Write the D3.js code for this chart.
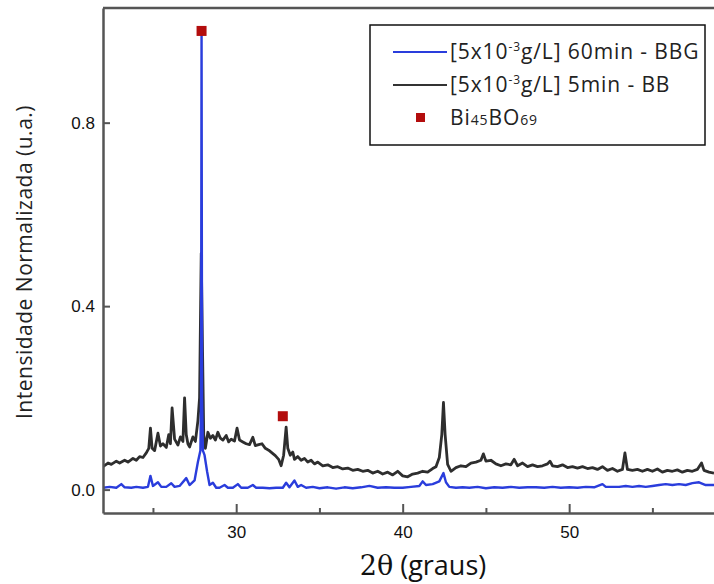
<!DOCTYPE html>
<html>
<head>
<meta charset="utf-8">
<script src="https://cdn.jsdelivr.net/npm/d3@7"></script>
<style>
body { margin: 0; background: #fff; }
svg { display: block; font-family: "Open Sans", "DejaVu Sans", sans-serif; }
.axis path, .axis line { stroke: #555; }
.axis text { font-family: "Liberation Sans", Arial, sans-serif; font-size: 17px; fill: #111; }
</style>
</head>
<body>
<div id="chart"></div>
<script>
// 2theta / normalised intensity
var bb_5min = [
    [22.0,0.050],[22.3,0.058],[22.5,0.055],[22.8,0.062],[23.0,0.058],[23.3,0.064],[23.5,0.060],[23.8,0.068],
    [24.0,0.064],[24.2,0.072],[24.4,0.070],[24.6,0.080],[24.75,0.090],[24.85,0.134],[24.95,0.090],[25.1,0.085],
    [25.3,0.123],[25.45,0.095],[25.6,0.100],[25.8,0.092],[25.95,0.120],[26.05,0.100],[26.15,0.178],[26.3,0.110],
    [26.5,0.097],[26.65,0.115],[26.8,0.105],[26.9,0.200],[27.0,0.120],[27.1,0.100],[27.2,0.093],[27.4,0.115],
    [27.55,0.105],[27.7,0.150],[27.8,0.200],[27.9,0.515],[27.98,0.300],[28.05,0.120],[28.15,0.090],[28.3,0.125],
    [28.45,0.112],[28.6,0.118],[28.75,0.108],[28.9,0.125],[29.05,0.112],[29.2,0.108],[29.4,0.118],[29.55,0.104],
    [29.7,0.110],[29.9,0.106],[30.05,0.134],[30.2,0.108],[30.4,0.104],[30.6,0.100],[30.8,0.098],[31.0,0.114],
    [31.15,0.096],[31.35,0.098],[31.55,0.100],[31.75,0.090],[31.95,0.086],[32.15,0.080],[32.35,0.074],[32.55,0.066],
    [32.7,0.052],[32.85,0.075],[33.0,0.136],[33.1,0.090],[33.25,0.075],[33.4,0.082],[33.5,0.066],[33.7,0.072],
    [33.9,0.064],[34.1,0.068],[34.3,0.060],[34.5,0.064],[34.7,0.056],[34.9,0.060],[35.2,0.052],[35.5,0.054],
    [35.8,0.048],[36.1,0.050],[36.4,0.045],[36.7,0.047],[37.0,0.042],[37.3,0.044],[37.6,0.040],[37.9,0.042],
    [38.2,0.036],[38.5,0.040],[38.8,0.034],[39.1,0.038],[39.4,0.032],[39.7,0.040],[40.0,0.030],[40.3,0.028],
    [40.6,0.034],[40.9,0.036],[41.2,0.040],[41.5,0.038],[41.8,0.046],[42.0,0.050],[42.2,0.070],[42.35,0.120],
    [42.45,0.190],[42.55,0.120],[42.7,0.055],[42.9,0.040],[43.2,0.048],[43.5,0.052],[43.8,0.050],[44.1,0.058],
    [44.4,0.060],[44.7,0.064],[44.85,0.078],[45.0,0.062],[45.3,0.064],[45.6,0.056],[45.9,0.052],[46.2,0.056],
    [46.5,0.054],[46.7,0.066],[46.9,0.052],[47.2,0.058],[47.5,0.050],[47.8,0.054],[48.1,0.050],[48.4,0.052],
    [48.7,0.056],[48.85,0.062],[49.0,0.052],[49.3,0.050],[49.6,0.054],[49.9,0.048],[50.2,0.050],[50.5,0.047],
    [50.8,0.050],[51.1,0.046],[51.4,0.048],[51.7,0.044],[52.0,0.050],[52.3,0.042],[52.6,0.046],[52.9,0.040],
    [53.2,0.044],[53.35,0.080],[53.5,0.044],[53.8,0.042],[54.1,0.044],[54.4,0.040],[54.7,0.044],[55.0,0.040],
    [55.3,0.045],[55.6,0.038],[55.9,0.042],[56.2,0.040],[56.5,0.043],[56.8,0.038],[57.1,0.042],[57.4,0.040],
    [57.7,0.044],[57.95,0.058],[58.1,0.042],[58.4,0.038],[58.7,0.036]
];

var bbg_60min = [
    [22.0,0.004],[22.4,0.006],[22.8,0.004],[23.1,0.012],[23.3,0.005],[23.7,0.004],[24.0,0.006],[24.4,0.004],
    [24.7,0.006],[24.85,0.030],[25.0,0.008],[25.3,0.016],[25.5,0.006],[25.8,0.006],[26.1,0.014],[26.3,0.006],
    [26.6,0.008],[27.0,0.025],[27.2,0.010],[27.5,0.020],[27.7,0.060],[27.85,0.085],[27.89,0.200],[27.92,1.000],
    [27.95,0.200],[28.0,0.085],[28.1,0.075],[28.25,0.040],[28.4,0.010],[28.6,0.015],[28.8,0.004],[29.0,0.004],
    [29.3,0.010],[29.5,0.004],[29.8,0.004],[30.1,0.012],[30.3,0.004],[30.7,0.004],[31.0,0.010],[31.2,0.004],
    [31.6,0.004],[32.0,0.003],[32.4,0.004],[32.8,0.004],[33.0,0.015],[33.2,0.005],[33.5,0.020],[33.7,0.006],
    [33.9,0.010],[34.2,0.004],[34.6,0.006],[35.0,0.003],[35.5,0.005],[36.0,0.002],[36.5,0.005],[37.0,0.003],
    [37.5,0.005],[38.0,0.008],[38.5,0.004],[39.0,0.005],[39.5,0.004],[40.0,0.004],[40.5,0.006],[41.0,0.008],
    [41.2,0.018],[41.4,0.010],[41.8,0.012],[42.2,0.018],[42.45,0.036],[42.6,0.016],[42.8,0.006],[43.2,0.004],
    [43.6,0.005],[44.0,0.004],[44.5,0.006],[45.0,0.003],[45.5,0.005],[46.0,0.004],[46.5,0.006],[47.0,0.004],
    [47.5,0.005],[48.0,0.005],[48.5,0.004],[49.0,0.006],[49.5,0.004],[50.0,0.005],[50.5,0.004],[51.0,0.006],
    [51.5,0.005],[52.0,0.012],[52.2,0.006],[52.6,0.006],[53.0,0.006],[53.4,0.008],[53.8,0.006],[54.2,0.008],
    [54.6,0.006],[55.0,0.008],[55.4,0.010],[55.8,0.012],[56.2,0.010],[56.6,0.012],[57.0,0.010],[57.4,0.014],
    [57.8,0.016],[58.2,0.010],[58.7,0.010]
];

// Bi45BO69 reflections marked on the pattern
var phase_marks = [[27.92, 1.0], [32.8, 0.16]];

var x_ticks = [30, 40, 50],
    x_minor = [25, 35, 45, 55],
    y_ticks = [0.0, 0.4, 0.8];

var margins = {top: 8, right: 0, bottom: 71, left: 103},
    width = 714 - margins.left - margins.right,
    height = 584 - margins.top - margins.bottom;

var svg = d3.select("#chart").append("svg")
    .attr("width", 714)
    .attr("height", 584);

var g = svg.append("g")
    .attr("transform", "translate(" + margins.left + "," + margins.top + ")");

var x = d3.scaleLinear().domain([22, 58.7]).range([0, width]);
var y = d3.scaleLinear().domain([-0.051, 1.05]).range([height, 0]);

g.append("clipPath").attr("id", "plot-clip")
  .append("rect").attr("width", width).attr("height", height);

var line = d3.line()
    .x(function(d) { return x(d[0]); })
    .y(function(d) { return y(d[1]); });

var plot = g.append("g").attr("clip-path", "url(#plot-clip)");

plot.append("path")
    .datum(bb_5min)
    .attr("fill", "none")
    .attr("stroke", "#2e2e2e")
    .attr("stroke-width", 2.8)
    .attr("stroke-linejoin", "round")
    .attr("d", line);

plot.append("path")
    .datum(bbg_60min)
    .attr("fill", "none")
    .attr("stroke", "#2a3ddc")
    .attr("stroke-width", 2.4)
    .attr("stroke-linejoin", "round")
    .attr("d", line);

plot.selectAll("rect.mark").data(phase_marks).enter().append("rect")
    .attr("class", "mark")
    .attr("x", function(d) { return x(d[0]) - 5; })
    .attr("y", function(d) { return y(d[1]) - 5; })
    .attr("width", 10).attr("height", 10)
    .attr("fill", "#b30d0d");

// axes, ticks pointing inward
var xAxis = d3.axisBottom(x).tickValues(x_ticks).tickSizeInner(-9).tickSizeOuter(0).tickPadding(13).tickFormat(d3.format("d"));
var gx = g.append("g").attr("class", "x axis")
    .attr("transform", "translate(0," + height + ")")
    .call(xAxis);
gx.select(".domain").attr("stroke-width", 2.5);
gx.selectAll(".tick line").attr("stroke-width", 2);

g.append("g").attr("class", "x minor axis")
    .attr("transform", "translate(0," + height + ")")
    .call(d3.axisBottom(x).tickValues(x_minor).tickSizeInner(-5).tickSizeOuter(0).tickFormat(""))
    .call(function(s) { s.select(".domain").remove(); s.selectAll(".tick line").attr("stroke-width", 2); });

var yAxis = d3.axisLeft(y).tickValues(y_ticks).tickSizeInner(-7).tickSizeOuter(0).tickPadding(8).tickFormat(d3.format(".1f"));
var gy = g.append("g").attr("class", "y axis").call(yAxis);
gy.select(".domain").attr("stroke-width", 2.5);
gy.selectAll(".tick line").attr("stroke-width", 2);
gy.selectAll(".tick text").attr("x", -8);

g.append("line")
    .attr("x1", 0).attr("x2", width)
    .attr("y1", 0).attr("y2", 0)
    .attr("stroke", "#555").attr("stroke-width", 2.5);

// axis titles
svg.append("text")
    .attr("transform", "translate(32,262) rotate(-90)")
    .attr("text-anchor", "middle")
    .style("font-size", "21px")
    .style("letter-spacing", "0.5px")
    .attr("fill", "#222")
    .text("Intensidade Normalizada (u.a.)");

var xt = svg.append("text")
    .attr("x", 423).attr("y", 575)
    .attr("text-anchor", "middle")
    .style("font-size", "27px")
    .attr("fill", "#111");
xt.append("tspan").style("font-family", "'DejaVu Serif', serif").text("2θ");
xt.append("tspan").text(" (graus)");

// legend
var legend = svg.append("g").attr("transform", "translate(370,25)");
legend.append("rect")
    .attr("width", 335).attr("height", 120)
    .attr("fill", "#fff").attr("stroke", "#111").attr("stroke-width", 1.5);

var legend_items = [
    {color: "#2a3ddc", pre: "[5x10", sup: "-3", post: "g/L] 60min - BBG"},
    {color: "#333", pre: "[5x10", sup: "-3", post: "g/L] 5min - BB"}
];

legend_items.forEach(function(d, i) {
    var ly = 27 + i * 33;
    legend.append("line")
        .attr("x1", 23).attr("x2", 77).attr("y1", ly).attr("y2", ly)
        .attr("stroke", d.color).attr("stroke-width", 2.2);
    var t = legend.append("text").attr("x", 80).attr("y", ly + 7)
        .style("font-size", "21px").style("letter-spacing", "0.9px").attr("fill", "#222");
    t.append("tspan").text(d.pre);
    t.append("tspan").attr("dy", -8).style("font-size", "12px").text(d.sup);
    t.append("tspan").attr("dy", 8).text(d.post);
});

legend.append("rect")
    .attr("x", 46).attr("y", 88).attr("width", 9).attr("height", 9)
    .attr("fill", "#b30d0d");
var lt = legend.append("text").attr("x", 80).attr("y", 100)
    .style("font-size", "21px").style("letter-spacing", "0.9px").attr("fill", "#222");
lt.append("tspan").text("Bi");
lt.append("tspan").style("font-size", "14px").text("45");
lt.append("tspan").text("BO");
lt.append("tspan").style("font-size", "14px").text("69");
</script>
</body>
</html>
